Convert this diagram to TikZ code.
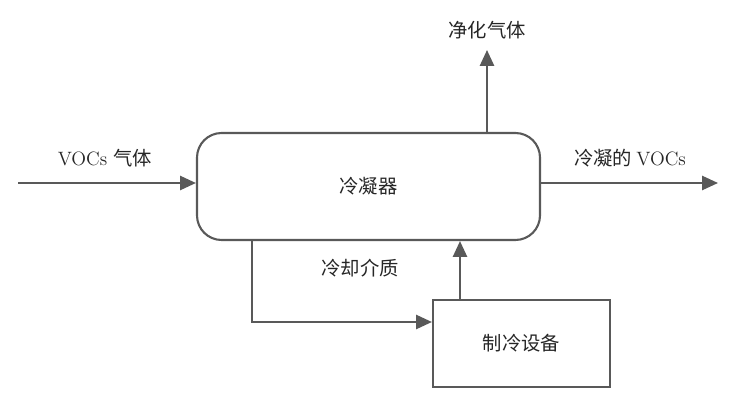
\documentclass[tikz,border=0pt]{standalone}
\usepackage{fontspec}
\newfontfamily\cjk{Noto Sans CJK SC}
\usetikzlibrary{arrows.meta,positioning}
\definecolor{linegray}{rgb}{0.35,0.35,0.35}
\tikzset{
  flow/.style={draw=linegray, line width=1.2pt, -{Triangle[length=9pt,width=8pt]}},
  unitbox/.style={draw=linegray, line width=1.2pt, align=center},
  tag/.style={font=\cjk\fontsize{11}{13}\selectfont, text=black!85}
}
\begin{document}
\begin{tikzpicture}[x=0.02cm,y=-0.02cm]
\useasboundingbox (0,0) rectangle (737,405);

% Main units
\node[unitbox, rounded corners=14pt, minimum width=343*0.02cm, minimum height=107*0.02cm, tag] (cond) at (368.5,186.5) {冷凝器};
\node[unitbox, minimum width=177*0.02cm, minimum height=87*0.02cm, tag] (fridge) at (521.5,343.5) {制冷设备};

% Free ends
\coordinate (in) at (18,183);
\coordinate (out) at (718,183);
\coordinate (top) at (487,50);
\coordinate (bend) at (252,322);

% Streams
\draw[flow] (in) -- (cond.west |- in);
\draw[flow] (cond.east |- out) -- (out);
\draw[flow] (cond.south -| top) ++(0,-107) -- (top);
\draw[flow] (cond.south -| bend) -- (bend) -- (fridge.west |- bend);
\draw[flow] (fridge.north -| 460,0) -- (cond.south -| 460,0);

% Labels
\node[tag] (lin) at (105,158) {\rmfamily VOCs \cjk 气体};
\node[tag] (lout) at (630,158) {冷凝的 \rmfamily VOCs};
\node[tag] (ltop) at (487,30) {净化气体};
\node[tag] (lcool) at (360,268) {冷却介质};

\end{tikzpicture}
\end{document}
